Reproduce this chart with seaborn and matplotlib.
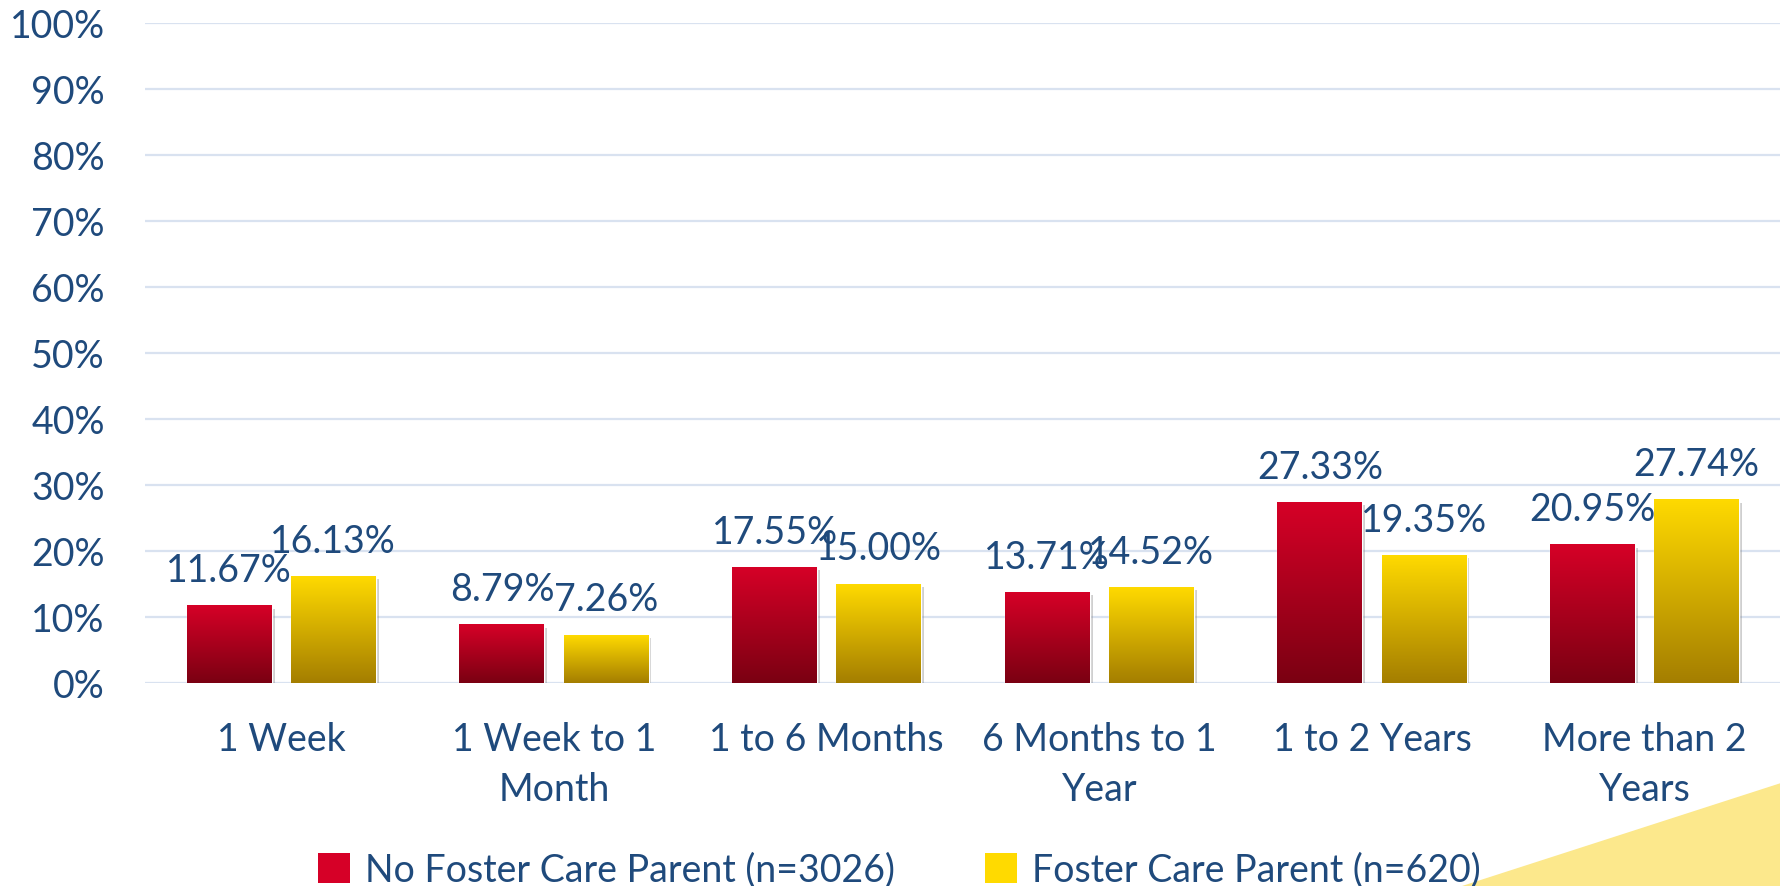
import numpy as np
import pandas as pd
import matplotlib
matplotlib.use("Agg")
import matplotlib.pyplot as plt
import seaborn as sns
from matplotlib.colors import LinearSegmentedColormap
from matplotlib.patches import Polygon, Patch
from matplotlib import patheffects as pe

# ---------------------------------------------------------------------------
# Data
# ---------------------------------------------------------------------------
categories = ["1 Week", "1 Week to 1\nMonth", "1 to 6 Months",
              "6 Months to 1\nYear", "1 to 2 Years", "More than 2\nYears"]
series_names = ["No Foster Care Parent (n=3026)", "Foster Care Parent (n=620)"]
no_foster = [11.67, 8.79, 17.55, 13.71, 27.33, 20.95]
foster = [16.13, 7.26, 15.00, 14.52, 19.35, 27.74]
y_ticks = [0, 10, 20, 30, 40, 50, 60, 70, 80, 90, 100]

TEXT = "#1F4A7C"
GRID = "#D9E2F0"
FS = 27
GRADS = {
    series_names[0]: ("#D60027", "#7A0012"),
    series_names[1]: ("#FFDA00", "#A47E00"),
}

df = pd.DataFrame({
    "category": categories * 2,
    "series": [series_names[0]] * 6 + [series_names[1]] * 6,
    "value": [v / 100 for v in no_foster + foster],
})

sns.set_theme(style="white")
plt.rcParams["font.family"] = ["Lato", "DejaVu Sans"]

fig = plt.figure(figsize=(17.81, 8.86), dpi=100)
ax = fig.add_axes([145 / 1781, 1 - 683 / 886, 1 - 145 / 1781, (683 - 23) / 886])

palette = {k: v[0] for k, v in GRADS.items()}
sns.barplot(data=df, x="category", y="value", hue="series", order=categories,
            hue_order=series_names, palette=palette, width=0.763, gap=0.183,
            ax=ax, legend=False, saturation=1)

ax.set_ylim(0, 1)
ax.set_yticks([t / 100 for t in y_ticks])
ax.set_yticklabels([f"{t}%" for t in y_ticks])
ax.yaxis.grid(True, color=GRID, linewidth=1.6, zorder=0)
ax.set_axisbelow(True)
for s in ax.spines.values():
    s.set_visible(False)
ax.tick_params(axis="y", length=0, pad=29, labelsize=FS, labelcolor=TEXT)
ax.tick_params(axis="x", length=0, pad=28, labelsize=FS, labelcolor=TEXT)
for lbl in ax.get_xticklabels():
    lbl.set_linespacing(1.5)
ax.set_xlabel("")
ax.set_ylabel("")

# gradient fill on each bar
grad = np.linspace(0, 1, 256).reshape(-1, 1)
for container, name in zip(ax.containers, series_names):
    top, bottom = GRADS[name]
    cmap = LinearSegmentedColormap.from_list(name, [bottom, top])
    for bar, val in zip(container.patches, df.loc[df.series == name, "value"]):
        x0, y0 = bar.get_x(), bar.get_y()
        w, h = bar.get_width(), bar.get_height()
        bar.set_path_effects([pe.SimplePatchShadow(offset=(2, -2), shadow_rgbFace="#777777", alpha=0.35), pe.Normal()])
        ax.imshow(grad, cmap=cmap, origin="lower", aspect="auto",
                  extent=(x0, x0 + w, y0, y0 + h), zorder=3)
        ax.annotate(f"{val * 100:.2f}%", (x0 + w / 2, y0 + h), xytext=(0, 17),
                    textcoords="offset points", ha="center", va="baseline",
                    fontsize=FS, color=TEXT, zorder=5)
ax.set_xlim(-0.5, 5.5)
ax.set_ylim(0, 1)

# legend
handles = [Patch(facecolor=GRADS[n][0], edgecolor="none") for n in series_names]
fig.legend(handles, series_names, loc="center", bbox_to_anchor=(0.505, 1 - 870 / 886),
           ncol=2, frameon=False, fontsize=FS, labelcolor=TEXT, handlelength=0.85,
           handleheight=0.85, handletextpad=0.4, columnspacing=2.4)

# decorative corner shape
fig.add_artist(Polygon([(1462 / 1781, 0), (1, 1 - 783 / 886), (1, 0)],
                       closed=True, transform=fig.transFigure,
                       facecolor="#FCE88C", edgecolor="none", zorder=-1))

fig.savefig("out.png", dpi=100)
